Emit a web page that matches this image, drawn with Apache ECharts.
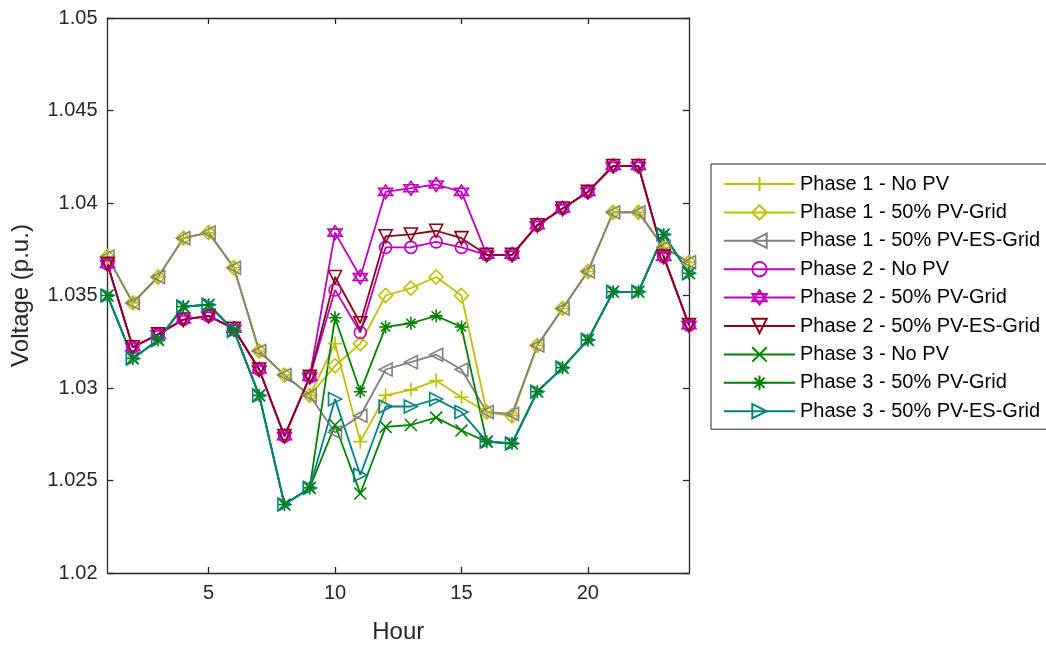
<!DOCTYPE html>
<html>
<head>
<meta charset="utf-8">
<script src="https://cdn.jsdelivr.net/npm/echarts@6/dist/echarts.min.js"></script>
<style>html,body{margin:0;padding:0;background:#fff;}#c{width:1046px;height:646px;}</style>
</head>
<body>
<div id="c"></div>
<script>
const hours = [1,2,3,4,5,6,7,8,9,10,11,12,13,14,15,16,17,18,19,20,21,22,23,24];
const xTicks = [5,10,15,20];
const yTicks = [1.02,1.025,1.03,1.035,1.04,1.045,1.05];

const seriesNames = [
  'Phase 1 - No PV','Phase 1 - 50% PV-Grid','Phase 1 - 50% PV-ES-Grid',
  'Phase 2 - No PV','Phase 2 - 50% PV-Grid','Phase 2 - 50% PV-ES-Grid',
  'Phase 3 - No PV','Phase 3 - 50% PV-Grid','Phase 3 - 50% PV-ES-Grid'
];

const p1NoPV   = [1.0371,1.0346,1.0360,1.0381,1.0384,1.0365,1.0320,1.0307,1.0296,1.0324,1.0271,1.0296,1.0299,1.0304,1.0295,1.0287,1.0285,1.0323,1.0343,1.0363,1.0395,1.0395,1.0376,1.0368];
const p1PVGrid = [1.0371,1.0346,1.0360,1.0381,1.0384,1.0365,1.0320,1.0307,1.0296,1.0312,1.0324,1.0350,1.0354,1.0360,1.0350,1.0287,1.0285,1.0323,1.0343,1.0363,1.0395,1.0395,1.0376,1.0368];
const p1PVES   = [1.0371,1.0346,1.0360,1.0381,1.0384,1.0365,1.0320,1.0307,1.0296,1.0276,1.0285,1.0310,1.0314,1.0318,1.0310,1.0287,1.0286,1.0323,1.0343,1.0363,1.0395,1.0395,1.0376,1.0368];
const p2NoPV   = [1.0367,1.0322,1.0329,1.0337,1.0339,1.0332,1.0310,1.0274,1.0306,1.0353,1.0330,1.0376,1.0376,1.0379,1.0376,1.0372,1.0372,1.0388,1.0397,1.0406,1.0420,1.0420,1.0371,1.0334];
const p2PVGrid = [1.0367,1.0322,1.0329,1.0337,1.0339,1.0332,1.0310,1.0274,1.0306,1.0384,1.0360,1.0406,1.0408,1.0410,1.0406,1.0372,1.0372,1.0388,1.0397,1.0406,1.0420,1.0420,1.0371,1.0334];
const p2PVES   = [1.0367,1.0322,1.0329,1.0337,1.0339,1.0332,1.0310,1.0274,1.0306,1.0360,1.0335,1.0382,1.0383,1.0385,1.0381,1.0372,1.0372,1.0388,1.0397,1.0406,1.0420,1.0420,1.0371,1.0334];
const p3NoPV   = [1.0350,1.0316,1.0326,1.0344,1.0345,1.0331,1.0296,1.0237,1.0246,1.0280,1.0243,1.0279,1.0280,1.0284,1.0277,1.0271,1.0270,1.0298,1.0311,1.0326,1.0352,1.0352,1.0383,1.0362];
const p3PVGrid = [1.0350,1.0316,1.0326,1.0344,1.0345,1.0331,1.0296,1.0237,1.0246,1.0338,1.0298,1.0333,1.0335,1.0339,1.0333,1.0271,1.0270,1.0298,1.0311,1.0326,1.0352,1.0352,1.0383,1.0362];
const p3PVES   = [1.0350,1.0316,1.0326,1.0344,1.0345,1.0331,1.0296,1.0237,1.0246,1.0294,1.0253,1.0290,1.0290,1.0294,1.0287,1.0271,1.0270,1.0298,1.0311,1.0326,1.0352,1.0352,1.0383,1.0362];

const values = [p1NoPV,p1PVGrid,p1PVES,p2NoPV,p2PVGrid,p2PVES,p3NoPV,p3PVGrid,p3PVES];
const colors = ['#BFBF00','#BFBF00','#808080','#BF00BF','#BF00BF','#8C0018','#008000','#008000','#008080'];
const symbols = [
  'path://M5,0L5,10M0,5L10,5',
  'diamond',
  'path://M0,5L10,0L10,10Z',
  'circle',
  'path://M5,0L9.33,7.5L0.67,7.5Z M5,10L0.67,2.5L9.33,2.5Z',
  'path://M0,0L10,0L5,9Z',
  'path://M0,0L10,10M10,0L0,10',
  'path://M5,0L5,10M0,5L10,5M1.5,1.5L8.5,8.5M8.5,1.5L1.5,8.5',
  'path://M10,5L0,0L0,10Z'
];
const sizes = [14,14,13,12,14,13,12,13,13];

const FONT = 'Liberation Sans, Arial, Helvetica, sans-serif';
const axisCol = '#262626';
const fmtY = v => parseFloat(v.toFixed(3)).toString();

const series = seriesNames.map((n,i)=>({
  name: n,
  type: 'line',
  xAxisIndex: 0, yAxisIndex: 0,
  data: hours.map((h,j)=>[h, values[i][j]]),
  symbol: symbols[i],
  symbolSize: sizes[i],
  showAllSymbol: true,
  lineStyle: {color: colors[i], width: 1.8},
  itemStyle: {color: 'rgba(255,255,255,0)', borderColor: colors[i], borderWidth: 1.6},
  emphasis: {disabled: true},
  animation: false
}));

const chart = echarts.init(document.getElementById('c'), null, {renderer:'canvas'});
chart.setOption({
  backgroundColor: '#fff',
  animation: false,
  grid: {left: 107.5, right: 357, top: 18, bottom: 73, containLabel: false, outerBoundsMode: 'none'},
  legend: {
    orient: 'vertical',
    left: 711, top: 164,
    padding: [10, 30, 8, 12],
    borderColor: axisCol, borderWidth: 1,
    backgroundColor: '#fff',
    itemWidth: 71, itemHeight: 18, itemGap: 8.4,
    textStyle: {fontFamily: FONT, fontSize: 20, color: '#000', lineHeight: 20},
    data: seriesNames,
    selectedMode: false
  },
  xAxis: [{
    type: 'value', min: 1, max: 24,
    name: 'Hour', nameLocation: 'middle', nameGap: 47,
    nameTextStyle: {fontFamily: FONT, fontSize: 24, color: '#262626'},
    axisLine: {show: true, lineStyle: {color: axisCol, width: 1.3}},
    axisTick: {show: true, inside: true, length: 6, customValues: xTicks, lineStyle: {color: axisCol, width: 1.3}},
    axisLabel: {customValues: xTicks, fontFamily: FONT, fontSize: 20, color: '#262626', margin: 10},
    splitLine: {show: false}
  },{
    type: 'value', min: 1, max: 24, position: 'top',
    axisLine: {show: true, lineStyle: {color: axisCol, width: 1.3}},
    axisTick: {show: true, inside: true, length: 6, customValues: xTicks, lineStyle: {color: axisCol, width: 1.3}},
    axisLabel: {show: false},
    splitLine: {show: false}
  }],
  yAxis: [{
    type: 'value', min: 1.02, max: 1.05, interval: 0.005,
    name: 'Voltage (p.u.)', nameLocation: 'middle', nameGap: 74,
    nameTextStyle: {fontFamily: FONT, fontSize: 24, color: '#262626'},
    axisLine: {show: true, lineStyle: {color: axisCol, width: 1.3}},
    axisTick: {show: true, inside: true, length: 6, lineStyle: {color: axisCol, width: 1.3}},
    axisLabel: {formatter: fmtY, fontFamily: FONT, fontSize: 20, color: '#262626', margin: 10},
    splitLine: {show: false}
  },{
    type: 'value', min: 1.02, max: 1.05, interval: 0.005, position: 'right',
    axisLine: {show: true, lineStyle: {color: axisCol, width: 1.3}},
    axisTick: {show: true, inside: true, length: 6, lineStyle: {color: axisCol, width: 1.3}},
    axisLabel: {show: false},
    splitLine: {show: false}
  }],
  series: series
});
</script>
</body>
</html>
